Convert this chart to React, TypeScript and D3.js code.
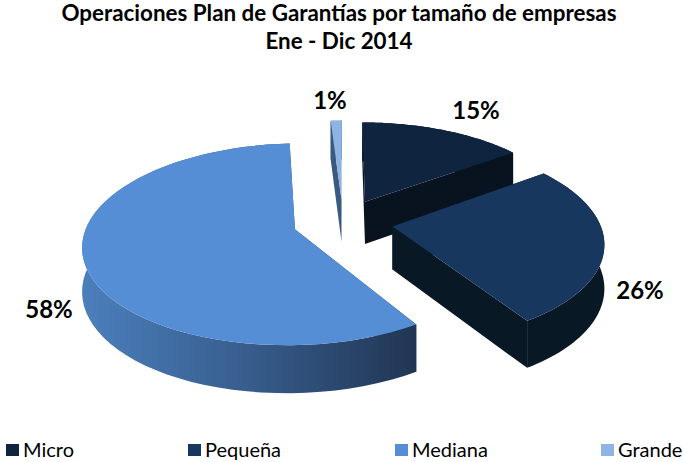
import React from "react";
import * as d3 from "d3";

const titleLines = ["Operaciones Plan de Garantías por tamaño de empresas", "Ene - Dic 2014"];
const categories = ["Micro", "Pequeña", "Mediana", "Grande"];
const values = [15, 26, 58, 1];
const labels = ["15%", "26%", "58%", "1%"];
const topColors = ["#0f243e", "#17375e", "#558ed5", "#8eb4e3"];
const wallColors = ["#08131f", "#091825", "url(#wallMediana)", "#3b5a80"];
const labelPos: [number, number][] = [[476, 119], [640, 299], [49, 318], [330, 109]];
const legendSwatchX = [6, 188, 395, 601];

const W = 683, H = 462;
const cx = 343, cy = 222, R = 207, explode = 50, persp = 0.147, tilt = 0.4665, depth = 43;

function project(X: number, Y: number, drop = 0): [number, number] {
  const s = 1 / (1 - (persp * Y) / R);
  return [cx + X * s, cy + tilt * Y * s + drop * Math.pow(s, 0.64)];
}

const pie = d3.pie<number>().sort(null).startAngle(0).endAngle(2 * Math.PI);
const arcs = pie(values);
const line = d3.line();

function slicePaths(a: d3.PieArcDatum<number>) {
  const mid = (a.startAngle + a.endAngle) / 2;
  const ox = explode * Math.sin(mid);
  const oy = -explode * Math.cos(mid);
  const steps = d3.range(0, 61).map((i) => a.startAngle + ((a.endAngle - a.startAngle) * i) / 60);
  const rim = (drop: number) =>
    steps.map((t) => project(ox + R * Math.sin(t), oy - R * Math.cos(t), drop));
  const apex = project(ox, oy);
  const apexLow = project(ox, oy, depth);
  const top = rim(0);
  const low = rim(depth);
  return {
    top: line([apex, ...top])! + "Z",
    wall: line([...top, ...low.slice().reverse()])! + "Z",
    cutA: line([apex, top[0], low[0], apexLow])! + "Z",
    cutB: line([apex, top[60], low[60], apexLow])! + "Z",
  };
}

const drawOrder = [0, 3, 2, 1];
const font = "Lato, Carlito, Calibri, sans-serif";

export default function App() {
  return (
    <svg
      width={W}
      height={H}
      viewBox={`0 0 ${W} ${H}`}
      style={{ position: "fixed", left: 0, top: 0, background: "#fff", fontFamily: font }}
    >
      <defs>
        <linearGradient id="wallMediana" gradientUnits="userSpaceOnUse" x1={84} x2={414} y1={0} y2={0}>
          <stop offset="0" stopColor="#4b7fbc" />
          <stop offset="0.5" stopColor="#375d8c" />
          <stop offset="1" stopColor="#213654" />
        </linearGradient>
      </defs>
      {titleLines.map((t, i) => (
        <text key={t} x={339} y={21 + i * 28} textAnchor="middle" fontSize={22.4} fontWeight={700} fill="#000">
          {t}
        </text>
      ))}
      {drawOrder.map((i) => {
        const p = slicePaths(arcs[i]);
        return (
          <g key={categories[i]}>
            <path d={p.cutA} fill={wallColors[i]} />
            <path d={p.cutB} fill={wallColors[i]} />
            <path d={p.wall} fill={wallColors[i]} />
            <path d={p.top} fill={topColors[i]} />
          </g>
        );
      })}
      {labels.map((l, i) => (
        <text key={l} x={labelPos[i][0]} y={labelPos[i][1]} textAnchor="middle" fontSize={24} fontWeight={700} fill="#000">
          {l}
        </text>
      ))}
      {categories.map((c, i) => (
        <g key={c}>
          <rect x={legendSwatchX[i]} y={444} width={13} height={12} fill={topColors[i]} />
          <text x={legendSwatchX[i] + 17} y={457} fontSize={20} fill="#000">
            {c}
          </text>
        </g>
      ))}
    </svg>
  );
}
